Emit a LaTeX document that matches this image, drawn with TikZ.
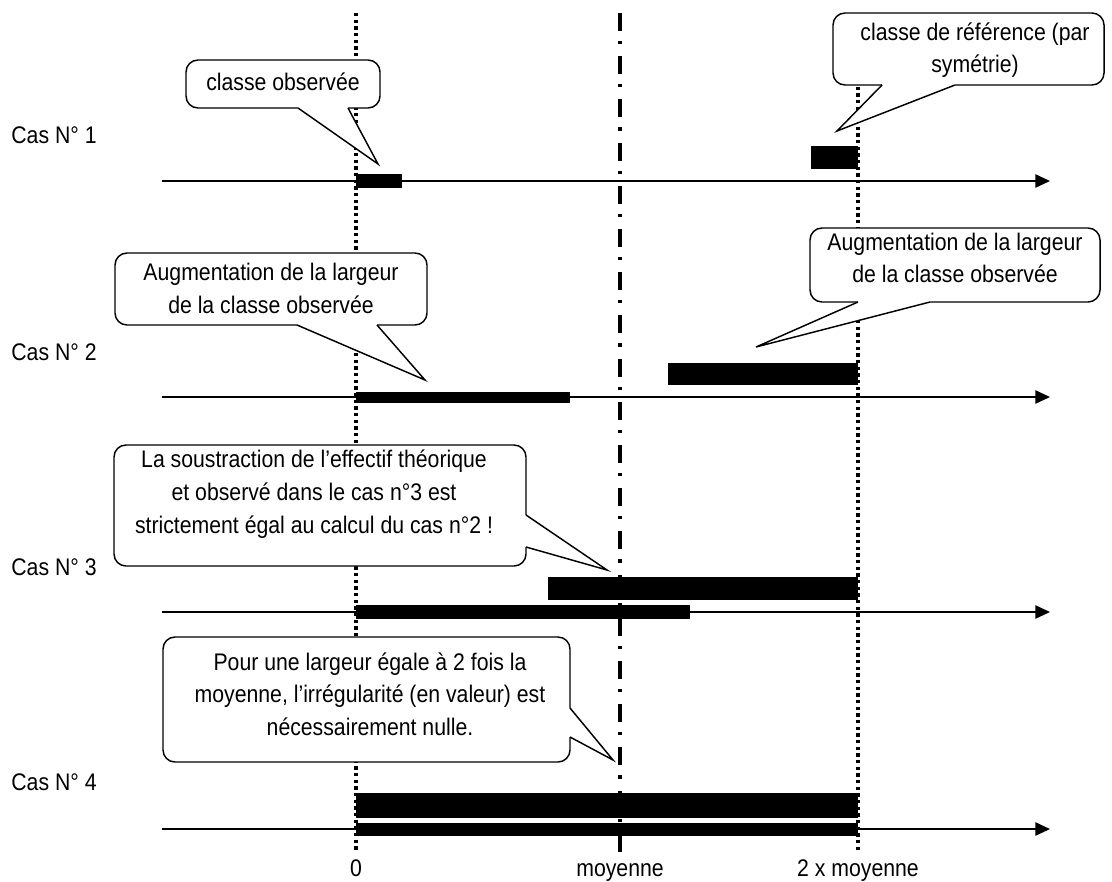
\documentclass[tikz,border=0pt]{standalone}
\usepackage{fontspec}
\setmainfont{Liberation Sans}[FakeStretch=0.885]
\usetikzlibrary{arrows.meta}

\begin{document}
\begin{tikzpicture}[x=0.75pt,y=-0.75pt,
  axe/.style={line width=1.1pt,-{Triangle[length=11pt,width=10pt]}},
  pointille/.style={line width=2.6pt,dash pattern=on 2.6pt off 2.4pt},
  mixte/.style={line width=2.4pt,dash pattern=on 13.5pt off 7.5pt on 2.4pt off 9pt},
  bulle/.style={draw,fill=white,line width=1.1pt,rounded corners=9pt,inner sep=0pt},
  pointe/.style={line width=1.1pt,line join=miter},
  txt/.style={font=\fontsize{18}{24.5}\selectfont,align=center,inner sep=0pt}]
\useasboundingbox (0,0) rectangle (1112,881);

% reperes verticaux
\coordinate (z0) at (356,13);  \coordinate (z1) at (356,850);
\coordinate (m0) at (620,13);  \coordinate (m1) at (620,852);
\coordinate (d0) at (858,20);  \coordinate (d1) at (858,850);
\draw[pointille] (z0) -- (z1);
\draw[mixte] (m0) -- (m1);
\draw[pointille] (d0) -- (d1);

% axes
\coordinate (a1) at (162,181); \coordinate (e1) at (1050,181);
\coordinate (a2) at (162,397); \coordinate (e2) at (1050,397);
\coordinate (a3) at (162,612); \coordinate (e3) at (1050,612);
\coordinate (a4) at (162,829); \coordinate (e4) at (1050,829);
\draw[axe] (a1) -- (e1);
\draw[axe] (a2) -- (e2);
\draw[axe] (a3) -- (e3);
\draw[axe] (a4) -- (e4);

% classes
\fill (356,174) rectangle (402,188);
\fill (811,146) rectangle (858,169);
\fill (356,392) rectangle (570,403);
\fill (668,363) rectangle (858,385);
\fill (356,605) rectangle (690,619);
\fill (548,577) rectangle (858,600);
\fill (356,793) rectangle (858,818);
\fill (356,823) rectangle (858,836);

\node[txt] (cas1) at (54,135) {Cas N° 1};
\node[txt] (cas2) at (54,352) {Cas N° 2};
\node[txt] (cas3) at (54,567) {Cas N° 3};
\node[txt] (cas4) at (54,782) {Cas N° 4};
\node[txt,anchor=base] (zero) at (356,876) {0};
\node[txt,anchor=base] (moy) at (620,876) {moyenne};
\node[txt,anchor=base] (deuxmoy) at (858,876) {2 x moyenne};

% bulles
\node[bulle,minimum width=145.5pt,minimum height=36pt] (b1) at (283,84) {};
\fill[white] (298,105) -- (298,108) -- (378,164) -- (348,108) -- (348,105) -- cycle;
\draw[pointe] (298,108) -- (378,164) -- (348,108);
\node[txt] (t1) at (283,82) {classe observée};

\node[bulle,minimum width=203.25pt,minimum height=54pt] (b2) at (968.5,49) {};
\fill[white] (882,82) -- (882,85) -- (837,131) -- (955,85) -- (955,82) -- cycle;
\draw[pointe] (882,85) -- (837,131) -- (955,85);
\node[txt] (t2) at (975,50) {classe de référence (par\\symétrie)};

\node[bulle,minimum width=234pt,minimum height=54pt] (b3) at (271,289) {};
\fill[white] (297,322) -- (297,325) -- (425,380) -- (377,325) -- (377,322) -- cycle;
\draw[pointe] (297,325) -- (425,380) -- (377,325);
\node[txt] (t3) at (271,288.5) {Augmentation de la largeur\\de la classe observée};

\node[bulle,minimum width=217.5pt,minimum height=55.5pt] (b4) at (955,265) {};
\fill[white] (858,299) -- (858,302) -- (756,347) -- (930,302) -- (930,299) -- cycle;
\draw[pointe] (858,302) -- (756,347) -- (930,302);
\node[txt] (t4) at (955,258) {Augmentation de la largeur\\de la classe observée};

\node[bulle,minimum width=309pt,minimum height=90.75pt] (b5) at (320,505.5) {};
\fill[white] (523,515) -- (526,515) -- (607,570) -- (526,547) -- (523,547) -- cycle;
\draw[pointe] (526,515) -- (607,570) -- (526,547);
\node[txt] (t5) at (314,494) {La soustraction de l’effectif théorique\\et observé dans le cas n°3 est\\strictement égal au calcul du cas n°2 !};

\node[bulle,minimum width=305.25pt,minimum height=93.75pt] (b6) at (366.5,699.5) {};
\fill[white] (567,708) -- (570,708) -- (613,760) -- (570,737) -- (567,737) -- cycle;
\draw[pointe] (570,708) -- (613,760) -- (570,737);
\node[txt] (t6) at (370,694) {Pour une largeur égale à 2 fois la\\moyenne, l’irrégularité (en valeur) est\\nécessairement nulle.};
\end{tikzpicture}
\end{document}
